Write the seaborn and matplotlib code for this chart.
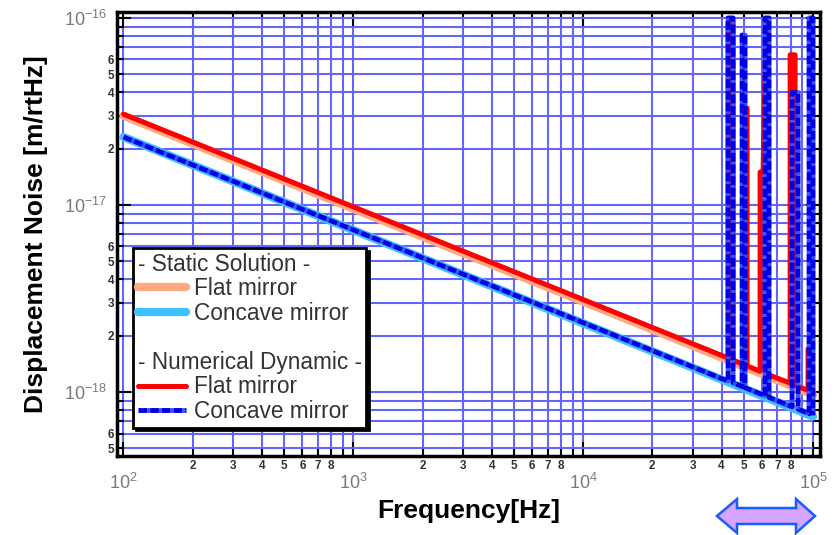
import numpy as np
import seaborn as sns
import matplotlib
matplotlib.use("Agg")
import matplotlib.pyplot as plt
from matplotlib.lines import Line2D
from matplotlib.patches import Polygon
from matplotlib.ticker import FixedLocator, FuncFormatter

# Static (analytic) solutions, f^-1/2 straight lines on log-log axes
static_freq = [100, 100000]
static_flat = [3.0e-17, 9.7e-19]
static_concave = [2.31e-17, 7.4e-19]

# Numerical dynamic solution, flat mirror (Hz, m/rtHz)
dyn_flat_freq = [100, 40000,
                 42720, 42720, 44910, 44910,
                 50150, 50150, 51670, 51670,
                 58870, 58870, 60660, 62520, 63780, 63780,
                 79540, 79540, 83590, 83590,
                 95200, 95200, 97130, 97130, 100000]
dyn_flat_val = [3.06e-17, 1.57e-18,
                1.52e-18, 9.5e-17, 9.5e-17, 1.48e-18,
                1.40e-18, 3.3e-17, 3.3e-17, 1.38e-18,
                1.29e-18, 1.5e-17, 1.5e-17, 9.5e-17, 9.5e-17, 1.24e-18,
                1.115e-18, 6.35e-17, 6.35e-17, 1.087e-18,
                1.02e-18, 1.7e-18, 1.7e-18, 1.01e-18, 9.9e-19]

# Numerical dynamic solution, concave mirror (Hz, m/rtHz)
dyn_conc_freq = [100, 40000,
                 42720, 42720, 44910, 44910,
                 49150, 49150, 50650, 50650,
                 61880, 61880, 64420, 64420,
                 81150, 81150, 86150, 86150,
                 96160, 96160, 100090, 100090]
dyn_conc_val = [2.31e-17, 1.18e-18,
                1.145e-18, 1.0e-16, 1.0e-16, 1.12e-18,
                1.07e-18, 8.1e-17, 8.1e-17, 1.055e-18,
                9.55e-19, 1.0e-16, 1.0e-16, 9.35e-19,
                8.33e-19, 4.0e-17, 4.0e-17, 8.1e-19,
                7.65e-19, 1.0e-16, 1.0e-16, 7.5e-19]

legend_labels = ["- Static Solution -", "Flat mirror", "Concave mirror", " ",
                 "- Numerical Dynamic -", "Flat mirror", "Concave mirror"]

x_major_ticks = [1e2, 1e3, 1e4, 1e5]
y_major_ticks = [1e-18, 1e-17, 1e-16]
x_minor_digits = {2, 3, 4, 5, 6, 7, 8}
y_minor_digits = {2, 3, 4, 5, 6}

C_SALMON = "#ffaa80"
C_LIGHTBLUE = "#40c0ff"
C_RED = "#ff0000"
C_BLUE = "#0000e6"
C_BLUE_GAP = "#3355ff"
C_GRID = "#6464ff"

sns.set_theme(style="ticks")
plt.rcParams["font.family"] = ["Liberation Sans", "DejaVu Sans"]
plt.rcParams["mathtext.fontset"] = "custom"
plt.rcParams["mathtext.rm"] = "Liberation Sans"
plt.rcParams["mathtext.it"] = "Liberation Sans:italic"
plt.rcParams["mathtext.bf"] = "Liberation Sans:bold"

W, H = 838, 535
fig = plt.figure(figsize=(W / 100, H / 100), dpi=100)
ax = fig.add_axes([117 / W, 1 - 456 / H, 703 / W, 444 / H])
ax.set_xscale("log")
ax.set_yscale("log")

blue_ls = (0, (1.8, 0.6))
common = dict(ax=ax, sort=False, estimator=None, legend=False)
sns.lineplot(x=static_freq, y=static_flat, color=C_SALMON, lw=6, **common)
sns.lineplot(x=static_freq, y=static_concave, color=C_LIGHTBLUE, lw=6, **common)
sns.lineplot(x=dyn_flat_freq, y=dyn_flat_val, color=C_RED, lw=3.6, **common)
sns.lineplot(x=dyn_conc_freq, y=dyn_conc_val, color=C_BLUE, lw=3.5,
             linestyle=blue_ls, gapcolor=C_BLUE_GAP, **common)

xlim = (93.7, 107300)
ylim = (4.55e-19, 1.076e-16)
ax.set_xlim(*xlim)
ax.set_ylim(*ylim)


def minor_positions(lo, hi):
    out = []
    for k in range(int(np.floor(np.log10(lo))), int(np.ceil(np.log10(hi))) + 1):
        for d in range(2, 10):
            v = d * 10.0 ** k
            if lo <= v <= hi:
                out.append(v)
    return out


ax.xaxis.set_major_locator(FixedLocator(x_major_ticks))
ax.yaxis.set_major_locator(FixedLocator(y_major_ticks))
ax.xaxis.set_minor_locator(FixedLocator(minor_positions(*xlim)))
ax.yaxis.set_minor_locator(FixedLocator(minor_positions(*ylim)))
ax.set_axisbelow(True)
ax.grid(True, which="both", color=C_GRID, lw=1.5)


def major_fmt(v, pos):
    return r"$\mathit{10^{%d}}$" % int(round(np.log10(v)))


def minor_fmt_factory(allowed):
    def fmt(v, pos):
        d = int(round(v / 10 ** np.floor(np.log10(v) + 1e-9)))
        return str(d) if d in allowed else ""
    return fmt


ax.xaxis.set_major_formatter(FuncFormatter(major_fmt))
ax.yaxis.set_major_formatter(FuncFormatter(major_fmt))
ax.xaxis.set_minor_formatter(FuncFormatter(minor_fmt_factory(x_minor_digits)))
ax.yaxis.set_minor_formatter(FuncFormatter(minor_fmt_factory(y_minor_digits)))

ax.tick_params(which="both", direction="in", top=True, right=True,
               color="black", width=1.5)
ax.tick_params(which="major", length=10, labelsize=13, labelcolor="#7a7a7a")
ax.tick_params(which="minor", length=5, labelsize=8.5, labelcolor="#333333")
ax.tick_params(axis="x", which="major", pad=12)
ax.tick_params(axis="x", which="minor", pad=3)
ax.tick_params(axis="y", which="major", pad=7)
ax.tick_params(axis="y", which="minor", pad=2)
for lab in ax.get_xticklabels(minor=True) + ax.get_yticklabels(minor=True):
    lab.set_fontweight("bold")

for sp in ax.spines.values():
    sp.set_color("black")
    sp.set_linewidth(2.5)

ax.set_xlabel("Frequency[Hz]", fontsize=19, fontweight="bold", color="black")
ax.set_ylabel("Displacement Noise [m/rtHz]", fontsize=19, fontweight="bold",
              color="black")
ax.xaxis.set_label_coords(0.5, -0.097)
ax.yaxis.set_label_coords(-0.098, 0.5)

# legend with two section headers
blank = Line2D([], [], color="none")
handles = [
    blank,
    Line2D([], [], color=C_SALMON, lw=6),
    Line2D([], [], color=C_LIGHTBLUE, lw=6),
    blank,
    blank,
    Line2D([], [], color=C_RED, lw=3.6),
    Line2D([], [], color=C_BLUE, lw=3.5, linestyle=blue_ls, gapcolor=C_BLUE_GAP),
]
leg = ax.legend(handles, legend_labels, loc="upper left",
                bbox_to_anchor=(0.0228, 0.4685), borderaxespad=0,
                frameon=True, fancybox=False, edgecolor="black", framealpha=1,
                shadow={"color": "black", "alpha": 1},
                prop={"family": "Liberation Sans", "size": 16.3},
                labelcolor="#333333", handlelength=2.15, handletextpad=0.35,
                borderpad=0.2, labelspacing=0.07)
leg.get_frame().set_linewidth(2)
rows = leg._legend_handle_box.get_children()[0].get_children()
for i in (0, 4):
    rows[i]._children = [rows[i]._children[1]]

# band marker below the high-frequency end of the axis
arrow_px = [(717, 516), (737, 499), (737, 508), (796, 508), (796, 499),
            (815, 516), (796, 533), (796, 524), (737, 524), (737, 533)]
fig.add_artist(Polygon([(x / W, 1 - y / H) for x, y in arrow_px], closed=True,
                       transform=fig.transFigure, facecolor="#d4a4ff",
                       edgecolor="#1a5cff", lw=1.8))

fig.savefig("out.png", dpi=100)
